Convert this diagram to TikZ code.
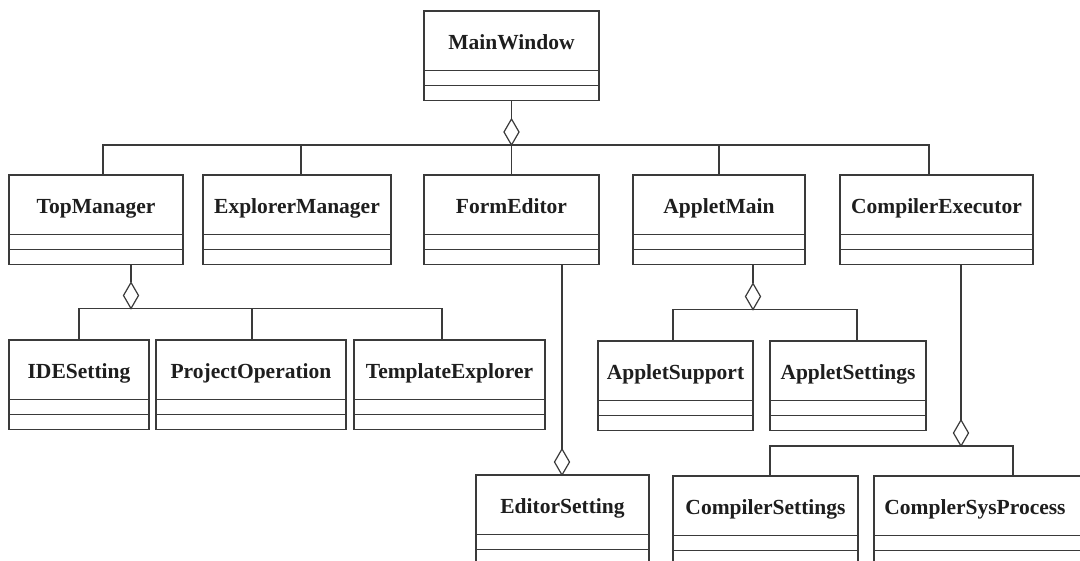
\documentclass[tikz,border=0pt]{standalone}
\usepackage{fontspec}
\setmainfont{Liberation Serif}
\usetikzlibrary{shapes.geometric}
\definecolor{umlline}{HTML}{3A3A3A}
\definecolor{umltext}{HTML}{1E1E1E}
\tikzset{
  classbox/.style={draw=umlline, line width=1.3pt, rectangle, inner sep=0pt, outer sep=0pt, fill=white},
  compline/.style={draw=umlline, line width=1.2pt},
  classname/.style={text=umltext, font=\fontsize{21.5}{24}\selectfont\bfseries, inner sep=0pt, anchor=base},
  link/.style={draw=umlline, line width=1.2pt},
  aggr/.style={diamond, draw=umlline, line width=1.2pt, fill=white, minimum width=15pt, minimum height=26pt, inner sep=0pt, outer sep=0pt},
}
% class box: name, left, right, top, x of the title, title
\newcommand\umlclass[6]{%
  \node[classbox, anchor=north west, minimum width={#3-#2}, minimum height=89.5pt] (#1) at (#2,#4) {};
  \draw[compline] ([yshift=-59.5pt]#1.north west) -- ([yshift=-59.5pt]#1.north east);
  \draw[compline] ([yshift=-74.5pt]#1.north west) -- ([yshift=-74.5pt]#1.north east);
  \node[classname] (#1-name) at ({#5},{#4+38.5}) {#6};
}
\begin{document}
\begin{tikzpicture}[x=1pt,y=-1pt]
\useasboundingbox (0,0) rectangle (1080,561);
\clip (0,0) rectangle (1080,561);
\fill[white] (0,0) rectangle (1080,561);

% classes
\umlclass{mw}{424}{599}{11}{511.5}{MainWindow}
\umlclass{tm}{9}{183}{175}{96}{TopManager}
\umlclass{em}{203}{391}{175}{297}{ExplorerManager}
\umlclass{fe}{424}{599}{175}{511.5}{FormEditor}
\umlclass{am}{633}{805}{175}{719}{AppletMain}
\umlclass{ce}{840}{1033}{175}{936.5}{CompilerExecutor}
\umlclass{ide}{9}{149}{340}{79}{IDESetting}
\umlclass{po}{156}{346}{340}{251}{ProjectOperation}
\umlclass{te}{354}{545}{340}{449.5}{TemplateExplorer}
\umlclass{asup}{598}{753}{341}{675.5}{AppletSupport}
\umlclass{aset}{770}{926}{341}{848}{AppletSettings}
\umlclass{es}{476}{649}{475}{562.5}{EditorSetting}
\umlclass{cs}{673}{858}{476}{765.5}{CompilerSettings}
\umlclass{csp}{874}{1090}{476}{975}{ComplerSysProcess}

% aggregation diamonds
\node[aggr] (d-mw) at (511.5,132) {};
\node[aggr] (d-tm) at (131,295.5) {};
\node[aggr] (d-fe) at (562,462) {};
\node[aggr] (d-am) at (753,296.5) {};
\node[aggr] (d-ce) at (961,433) {};

% MainWindow
\draw[link] (mw.south) -- (d-mw.north);
\draw[link] ([xshift=7pt]tm.north) |- (d-mw.south) -| ([xshift=-7.5pt]ce.north);
\draw[link] ([xshift=4pt]em.north) -- ++(0,-30);
\draw[link] (d-mw.south) -- (fe.north);
\draw[link] (am.north) -- ++(0,-30);

% TopManager
\draw[link] ([xshift=35pt]tm.south) -- (d-tm.north);
\draw[link] (ide.north) |- (d-tm.south) -| ([xshift=-7.5pt]te.north);
\draw[link] ([xshift=1pt]po.north) -- ++(0,-31.5);

% FormEditor
\draw[link] ([xshift=50.5pt]fe.south) -- (d-fe.north);

% AppletMain
\draw[link] ([xshift=34pt]am.south) -- (d-am.north);
\draw[link] ([xshift=-2.5pt]asup.north) |- (d-am.south) -| ([xshift=9pt]aset.north);

% CompilerExecutor
\draw[link] ([xshift=24.5pt]ce.south) -- (d-ce.north);
\draw[link] ([xshift=4.5pt]cs.north) |- (d-ce.south) -| ([xshift=31pt]csp.north);
\end{tikzpicture}
\end{document}
